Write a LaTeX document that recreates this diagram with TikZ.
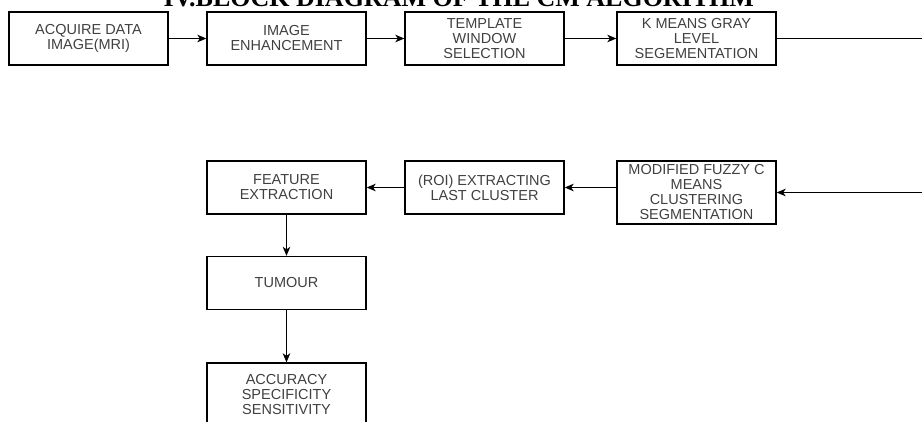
\documentclass[tikz,border=0pt]{standalone}
\usepackage{fontspec}
\setmainfont{Liberation Sans}
\newfontfamily\titlefont{Liberation Serif}
\usetikzlibrary{arrows.meta}
\definecolor{labelgray}{HTML}{404040}
\tikzstyle{block} = [rectangle, draw, text=labelgray, align=center, minimum width=159pt, minimum height=53pt, font=\fontsize{14.5}{15}\selectfont]
\tikzstyle{tall} = [block, minimum height=63pt]

\begin{document}
\begin{tikzpicture}[>={Stealth[length=9pt,width=7.5pt,inset=2.5pt]}, line width=1.3pt]
  \useasboundingbox (0pt,0pt) rectangle (922pt,-421pt);
  \clip (0pt,0pt) rectangle (922pt,-421pt);
  \draw (163pt,-6pt)node[anchor=base west,inner sep=0pt,font=\titlefont\bfseries\fontsize{26}{26}\selectfont](title){IV.BLOCK DIAGRAM OF THE CM ALGORITHM};
  \draw (88.5pt,-38.5pt)node[block](acq){ACQUIRE DATA\\IMAGE(MRI)};
  \draw (286.5pt,-38.5pt)node[block](enh){IMAGE\\ENHANCEMENT};
  \draw (484.5pt,-38.5pt)node[block](tws){TEMPLATE\\WINDOW\\SELECTION};
  \draw (696.5pt,-38.5pt)node[block](kmg){K MEANS GRAY\\LEVEL\\SEGEMENTATION};
  \draw (696.5pt,-192.5pt)node[tall](mfc){MODIFIED FUZZY C\\MEANS\\CLUSTERING\\SEGMENTATION};
  \draw (484.5pt,-187.5pt)node[block](roi){(ROI) EXTRACTING\\LAST CLUSTER};
  \draw (286.5pt,-187.5pt)node[block](feat){FEATURE\\EXTRACTION};
  \draw (286.5pt,-283pt)node[block](tum){TUMOUR};
  \draw (286.5pt,-394.5pt)node[tall](acc){ACCURACY\\SPECIFICITY\\SENSITIVITY};
  \coordinate (turn) at (950pt,-38.5pt);
  \path[->] (acq) edge (enh);
  \path[->] (enh) edge (tws);
  \path[->] (tws) edge (kmg);
  \draw[->] (kmg) -- (turn) |- (mfc);
  \path[->] (mfc.west |- roi) edge (roi);
  \path[->] (roi) edge (feat);
  \path[->] (feat) edge (tum);
  \path[->] (tum) edge (acc);
\end{tikzpicture}
\end{document}
